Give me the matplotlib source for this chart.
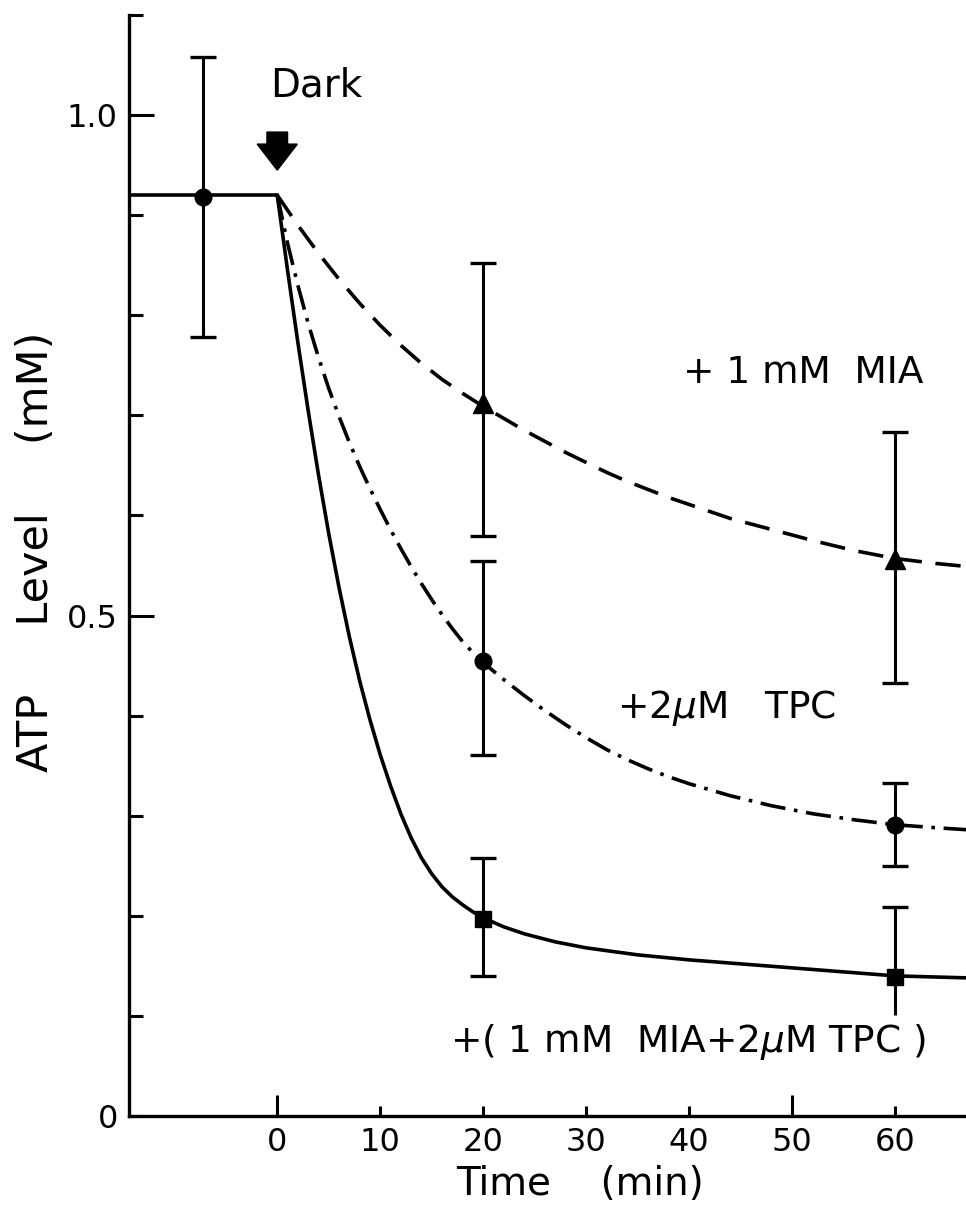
import numpy as np
import matplotlib
matplotlib.use("Agg")
import matplotlib.pyplot as plt

plt.rcParams['font.family'] = ['DejaVu Sans']
plt.rcParams['mathtext.fontset'] = 'dejavusans'

# ---- data ----
# light period (before dark)
pre_t = [-7.2]
pre_y = [0.918]
pre_err = [0.14]
base_level = 0.92
dark_t = 0

# measured points after dark (min)
pt_t = [20, 60]
mia_y = [0.712, 0.556]
mia_err_lo = [0.133, 0.123]
mia_err_hi = [0.140, 0.127]
tpc_y = [0.455, 0.291]
tpc_err_lo = [0.094, 0.041]
tpc_err_hi = [0.099, 0.042]
both_y = [0.197, 0.139]
both_err_lo = [0.057, 0.038]
both_err_hi = [0.061, 0.070]
both_lower_cap = [True, False]

# traced curves
mia_ct = [0, 2, 4, 6, 8, 10, 12, 14, 16, 18, 20, 22, 24, 26, 28, 30, 32, 34, 36,
          38, 40, 44, 48, 52, 56, 60, 64, 67]
mia_cy = [0.920, 0.890, 0.862, 0.836, 0.812, 0.790, 0.770, 0.752, 0.736, 0.722,
          0.709, 0.697, 0.685, 0.674, 0.663, 0.653, 0.643, 0.634, 0.626, 0.618,
          0.611, 0.597, 0.586, 0.575, 0.565, 0.557, 0.552, 0.549]
tpc_ct = [0, 1, 2, 3, 4, 5, 6, 7, 8, 9, 10, 11, 12, 13, 14, 15, 16, 17, 18, 19, 20,
          22, 24, 26, 28, 30, 32, 34, 36, 38, 40, 44, 48, 52, 56, 60, 64, 67]
tpc_cy = [0.920, 0.872, 0.830, 0.792, 0.758, 0.727, 0.699, 0.673, 0.649, 0.627,
          0.606, 0.586, 0.567, 0.549, 0.532, 0.516, 0.501, 0.487, 0.474, 0.463,
          0.453, 0.436, 0.420, 0.405, 0.391, 0.378, 0.366, 0.356, 0.347, 0.339,
          0.332, 0.320, 0.310, 0.302, 0.296, 0.291, 0.288, 0.286]
both_ct = [0, 1, 2, 3, 4, 5, 6, 7, 8, 9, 10, 11, 12, 13, 14, 15, 16, 17, 18, 19, 20,
           22, 24, 27, 30, 35, 40, 45, 50, 55, 60, 67]
both_cy = [0.920, 0.845, 0.773, 0.705, 0.641, 0.582, 0.528, 0.479, 0.435, 0.396,
           0.361, 0.330, 0.302, 0.278, 0.258, 0.242, 0.229, 0.219, 0.211, 0.204,
           0.198, 0.189, 0.182, 0.174, 0.168, 0.161, 0.156, 0.152, 0.148, 0.144,
           0.140, 0.138]

x_ticks = [0, 10, 20, 30, 40, 50, 60]
x_long = [0, 50]
y_ticks = [0, 0.1, 0.2, 0.3, 0.4, 0.5, 0.6, 0.7, 0.8, 0.9, 1.0, 1.1]
y_labels = ['0', '', '', '', '', '0.5', '', '', '', '', '1.0', '']
y_long = [0.5, 1.0]

X_LEFT, X_RIGHT = -14.4, 66.9
LW = 2.6

fig = plt.figure(figsize=(9.66, 12.06), dpi=100)
ax = fig.add_axes([129 / 966, 1 - 1116 / 1206, 1 - 129 / 966, 1101 / 1206])
ax.set_xlim(X_LEFT, X_RIGHT)
ax.set_ylim(0, 1.1)
ax.spines['top'].set_visible(False)
ax.spines['right'].set_visible(False)
ax.spines['left'].set_linewidth(2.4)
ax.spines['bottom'].set_linewidth(2.4)

# light period
ax.plot([X_LEFT, dark_t], [base_level, base_level], color='k', lw=LW, solid_capstyle='butt')
ax.errorbar(pre_t, pre_y, yerr=pre_err, fmt='none', ecolor='k', elinewidth=2.2,
            capsize=9.5, capthick=2.4)
ax.plot(pre_t, pre_y, 'o', color='k', ms=12, zorder=4)

# curves
ax.plot(mia_ct, mia_cy, color='k', lw=LW, linestyle=(0, (7, 3.8)))
ax.plot(tpc_ct, tpc_cy, color='k', lw=LW, linestyle=(0, (7, 2.4, 1.0, 2.4)))
ax.plot(both_ct, both_cy, color='k', lw=LW)


def bars(y, lo, hi, marker, ms, lower_cap=None):
    eb = ax.errorbar(pt_t, y, yerr=[lo, hi], fmt='none', ecolor='k', elinewidth=2.2,
                     capsize=9.5, capthick=2.4)
    if lower_cap is not None:
        for cl in eb[1]:
            if np.all(cl.get_ydata() < np.array(y)):
                cl.set_markevery([i for i, k in enumerate(lower_cap) if k])
    ax.plot(pt_t, y, marker, color='k', ms=ms, zorder=4, ls='none')


bars(mia_y, mia_err_lo, mia_err_hi, '^', 14)
bars(tpc_y, tpc_err_lo, tpc_err_hi, 'o', 12)
bars(both_y, both_err_lo, both_err_hi, 's', 12, both_lower_cap)

# ticks
ax.set_xticks(x_ticks)
ax.set_xticklabels([str(t) for t in x_ticks])
ax.set_yticks(y_ticks)
ax.set_yticklabels(y_labels)
ax.tick_params(direction='in', width=2.2, labelsize=23, pad=8)
ax.tick_params(axis='x', length=7)
ax.tick_params(axis='y', length=10)
for t, tk in zip(x_ticks, ax.xaxis.get_major_ticks()):
    if t in x_long:
        tk.tick1line.set_markersize(15)
for t, tk in zip(y_ticks, ax.yaxis.get_major_ticks()):
    if t in y_long:
        tk.tick1line.set_markersize(18)

# Dark arrow
ax.arrow(dark_t, 0.983, 0, -0.038, width=2.0, head_width=3.9, head_length=0.026,
         length_includes_head=True, color='k')
ax.text(-0.7, 1.03, 'Dark', fontsize=28, ha='left', va='center')

# labels on curves
ax.text(39.4, 0.742, '+ 1 mM  MIA', fontsize=27, ha='left', va='center')
ax.text(33.0, 0.408, '+2$\\mu$M   TPC', fontsize=27, ha='left', va='center')
ax.text(16.8, 0.074, '+( 1 mM  MIA+2$\\mu$M TPC )', fontsize=27, ha='left', va='center')

fig.text(36 / 966, 1 - 552 / 1206, 'ATP     Level     (mM)', rotation=90, fontsize=31,
         ha='center', va='center')
fig.text(580 / 966, 1 - 1184 / 1206, 'Time    (min)', fontsize=28, ha='center', va='center')

fig.savefig('out.png', dpi=100)
